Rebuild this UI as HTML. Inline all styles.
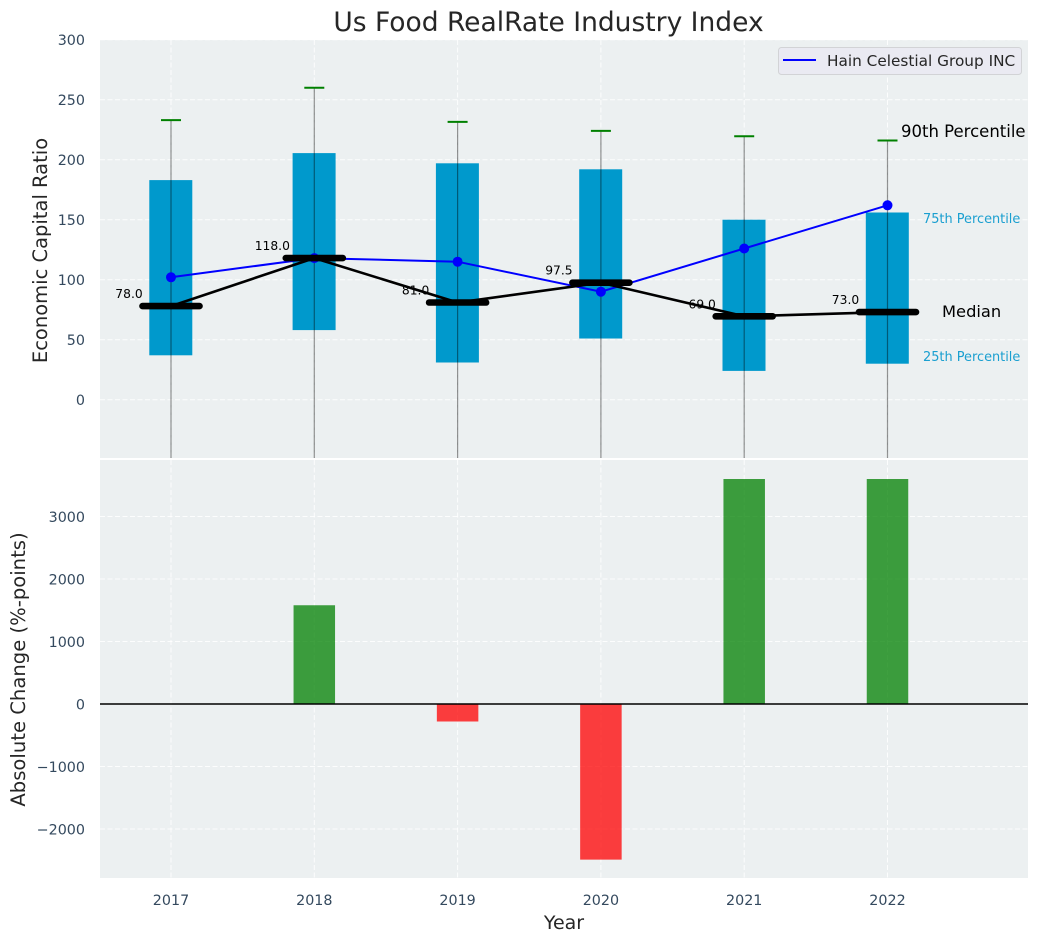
<!DOCTYPE html>
<html>
<head>
<meta charset="utf-8">
<style>
html,body{margin:0;padding:0;background:#fff;}
svg{display:block;font-family:"DejaVu Sans","Liberation Sans",sans-serif;}
</style>
</head>
<body>
<svg id="chart" xmlns="http://www.w3.org/2000/svg" width="1039" height="942" viewBox="0 0 1039 942">
  <text x="548.5" y="31" text-anchor="middle" font-size="26.5" fill="#262626">Us Food RealRate Industry Index</text>
  <rect x="100" y="40" width="928" height="418" fill="#ecf0f1"/>
  <rect x="100" y="460" width="928" height="418" fill="#ecf0f1"/>
  <g id="grid"></g>
  <g id="topMarks"></g>
  <g id="bottomMarks"></g>
  <g id="axisLabels"></g>
  <text transform="translate(47,250.5) rotate(-90)" text-anchor="middle" font-size="19.5" fill="#262626">Economic Capital Ratio</text>
  <text transform="translate(25,669.5) rotate(-90)" text-anchor="middle" font-size="19.6" fill="#262626">Absolute Change (%-points)</text>
  <text x="564" y="929" text-anchor="middle" font-size="19" fill="#262626">Year</text>
  <g>
    <rect x="778.5" y="47.5" width="243" height="27" rx="3" fill="#eaeaf2" stroke="#d2d3d6" stroke-width="1"/>
    <line x1="783" y1="60" x2="816" y2="60" stroke="#0000ff" stroke-width="2"/>
    <text x="827" y="66" font-size="15.3" fill="#262626">Hain Celestial Group INC</text>
  </g>
  <text x="901" y="137" font-size="16.5" fill="#000">90th Percentile</text>
  <text x="923" y="223" font-size="12.9" fill="#1a9fd0">75th Percentile</text>
  <text x="942" y="317" font-size="16.3" fill="#000">Median</text>
  <text x="923" y="361" font-size="12.9" fill="#1a9fd0">25th Percentile</text>
</svg>
<script>
const years = [2017, 2018, 2019, 2020, 2021, 2022];
const p90 = [233, 260, 231.5, 224, 219.5, 216];
const p75 = [183, 205.5, 197, 192, 150, 156];
const p50 = [78, 118, 81, 97.5, 69.5, 73];
const p25 = [37, 58, 31, 51, 24, 30];
const medianLabels = ["78.0", "118.0", "81.0", "97.5", "69.0", "73.0"];
const company = [102, 118, 115, 90, 126, 162];
const changes = [0, 1580, -280, -2490, 3600, 3600];
const topTicks = [0, 50, 100, 150, 200, 250, 300];
const bottomTicks = [-2000, -1000, 0, 1000, 2000, 3000];

const NS = 'http://www.w3.org/2000/svg';
const xPos = y => 171 + (y - 2017) * 143.3;
const yTop = v => 399.7 - v * 1.2;
const yBot = v => 704 - v * 0.0625;
const TOP_BOTTOM_EDGE = 458;

function make(parent, tag, attrs, text) {
  const el = document.createElementNS(NS, tag);
  for (const k in attrs) el.setAttribute(k, attrs[k]);
  if (text !== undefined) el.textContent = text;
  parent.appendChild(el);
  return el;
}
function fmt(v) { return v < 0 ? '\u2212' + Math.abs(v) : String(v); }

const grid = document.getElementById('grid');
const topMarks = document.getElementById('topMarks');
const bottomMarks = document.getElementById('bottomMarks');
const axisLabels = document.getElementById('axisLabels');
const gridStyle = { stroke: '#fff', 'stroke-width': 1, 'stroke-dasharray': '5 2.5', 'stroke-opacity': 0.85 };

topTicks.forEach(t => {
  const g = make(grid, 'line', Object.assign({ x1: 100, x2: 1028, y1: yTop(t), y2: yTop(t) }, gridStyle));
  
  
  const l = make(axisLabels, 'text', { x: 85, y: yTop(t) + 5.3, 'text-anchor': 'end', 'font-size': 14.3, fill: '#34495e' }, fmt(t));
  
  
});
bottomTicks.forEach(t => {
  const g = make(grid, 'line', Object.assign({ x1: 100, x2: 1028, y1: yBot(t), y2: yBot(t) }, gridStyle));
  
  
  const l = make(axisLabels, 'text', { x: 85, y: yBot(t) + 5.3, 'text-anchor': 'end', 'font-size': 14.3, fill: '#34495e' }, fmt(t));
  
  
});
years.forEach(y => {
  const a = make(grid, 'line', Object.assign({ x1: xPos(y), x2: xPos(y), y1: 40, y2: 458 }, gridStyle));
  
  
  const b = make(grid, 'line', Object.assign({ x1: xPos(y), x2: xPos(y), y1: 460, y2: 878 }, gridStyle));
  
  
  const l = make(axisLabels, 'text', { x: xPos(y), y: 905, 'text-anchor': 'middle', 'font-size': 14.3, fill: '#34495e' }, String(y));
  
  
});

/* interquartile boxes */
years.forEach((y, i) => {
  const r = make(topMarks, 'rect', {
    x: xPos(y) - 21.7, width: 43,
    y: yTop(p75[i]), height: yTop(p25[i]) - yTop(p75[i]),
    fill: '#0099cc'
  });
  
  
});
/* median annotations sit beneath the lines */
years.forEach((y, i) => {
  const t = make(topMarks, 'text', {
    x: xPos(y) - 42, y: yTop(p50[i]) - 8,
    'text-anchor': 'middle', 'font-size': 12.3, fill: '#000'
  }, medianLabels[i]);
  
  
});
/* whiskers and 90th percentile caps */
years.forEach((y, i) => {
  const w = make(topMarks, 'line', {
    x1: xPos(y), x2: xPos(y), y1: yTop(p90[i]), y2: TOP_BOTTOM_EDGE,
    stroke: '#000', 'stroke-opacity': 0.42, 'stroke-width': 1.2
  });
  
  
  const c = make(topMarks, 'line', {
    x1: xPos(y) - 10, x2: xPos(y) + 10, y1: yTop(p90[i]), y2: yTop(p90[i]),
    stroke: '#008000', 'stroke-width': 2
  });
  
  
});
/* company line */
const companyLine = make(topMarks, 'polyline', {
  points: years.map((y, i) => xPos(y) + ',' + yTop(company[i])).join(' '),
  fill: 'none', stroke: '#0000ff', 'stroke-width': 2
});


years.forEach((y, i) => {
  const d = make(topMarks, 'circle', { cx: xPos(y), cy: yTop(company[i]), r: 5, fill: '#0000ff' });
  
  
});
/* median line and thick bars */
const medianLine = make(topMarks, 'polyline', {
  points: years.map((y, i) => xPos(y) + ',' + yTop(p50[i])).join(' '),
  fill: 'none', stroke: '#000', 'stroke-width': 2.6
});


years.forEach((y, i) => {
  const m = make(topMarks, 'line', {
    x1: xPos(y) - 28.5, x2: xPos(y) + 28.5, y1: yTop(p50[i]), y2: yTop(p50[i]),
    stroke: '#000', 'stroke-width': 6.6, 'stroke-linecap': 'round'
  });
  
  
});

/* change bars */
years.forEach((y, i) => {
  const v = changes[i];
  const b = make(bottomMarks, 'rect', {
    x: xPos(y) - 20.75, width: 41.5,
    y: Math.min(yBot(v), yBot(0)), height: Math.abs(yBot(v) - yBot(0)),
    fill: v >= 0 ? '#008000' : '#ff0000', 'fill-opacity': 0.75
  });
  
  
});
const zero = make(bottomMarks, 'line', { x1: 100, x2: 1028, y1: yBot(0), y2: yBot(0), stroke: '#000', 'stroke-width': 1.5 });


</script>
</body>
</html>
